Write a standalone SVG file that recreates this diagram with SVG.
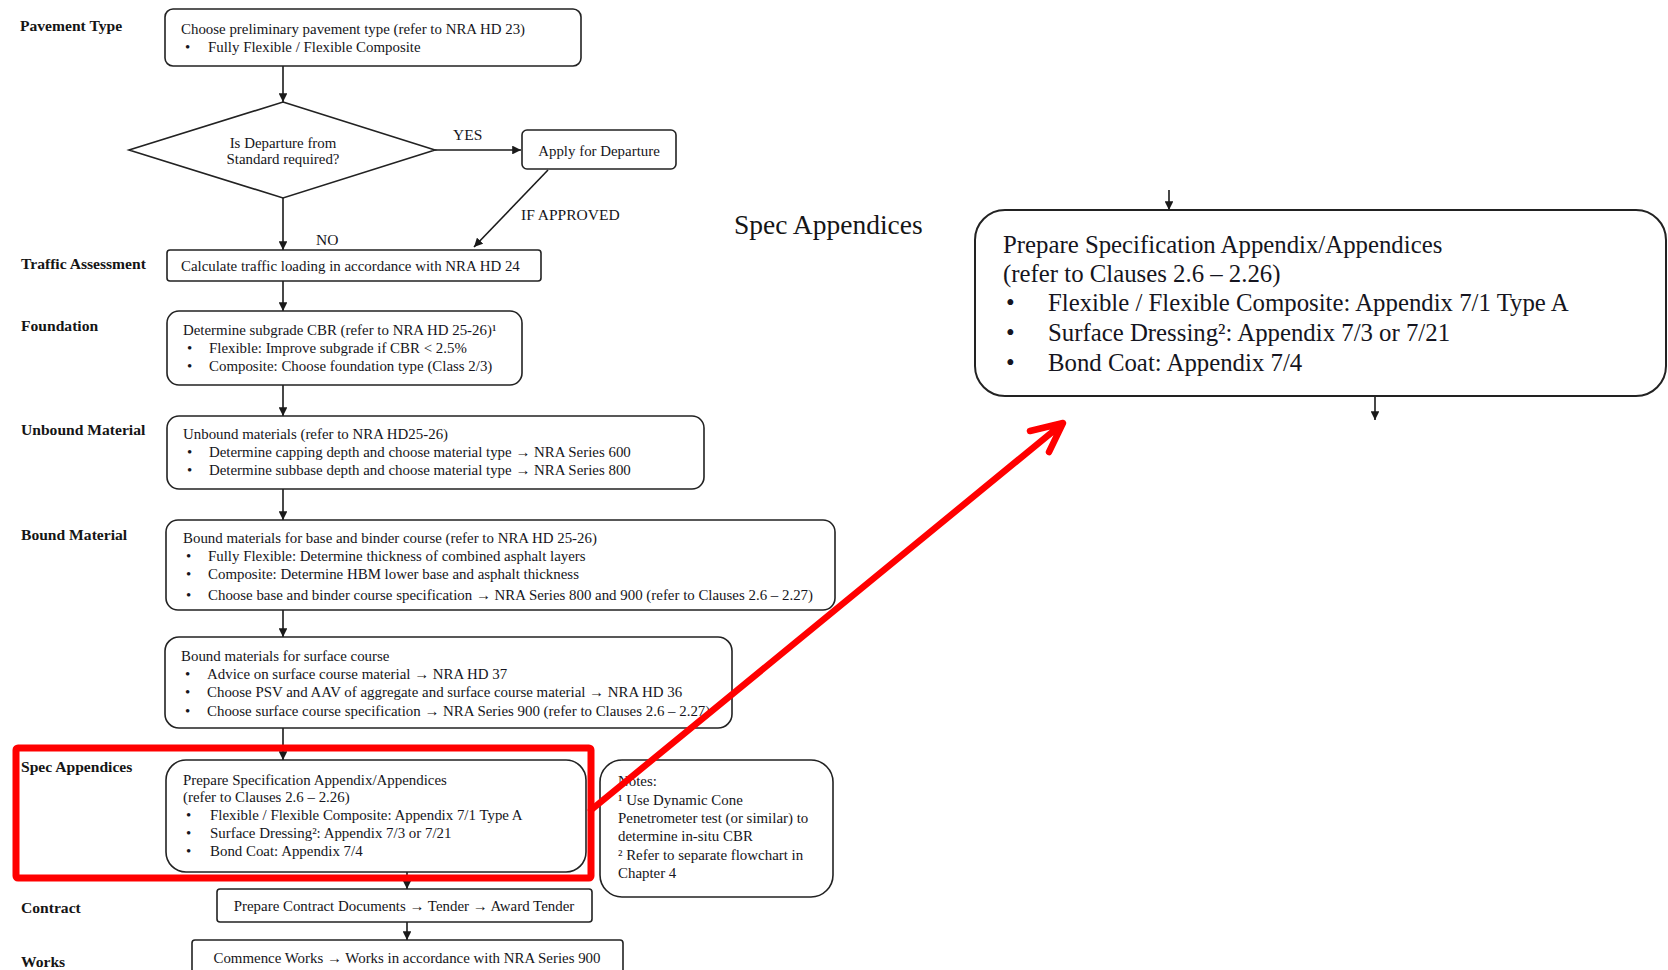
<svg xmlns="http://www.w3.org/2000/svg" width="1668" height="970" viewBox="0 0 1668 970">
  <style>
    .box { fill: #fff; stroke: #222; stroke-width: 1.6; }
    .t { font-family: "Liberation Serif", "Times New Roman", serif; font-size: 14.9px; fill: #151520; }
    .lbl { font-family: "Liberation Serif", "Times New Roman", serif; font-size: 15.6px; font-weight: bold; fill: #151515; }
    .big { font-family: "Liberation Serif", "Times New Roman", serif; font-size: 24.8px; fill: #151520; }
    .title { font-family: "Liberation Serif", "Times New Roman", serif; font-size: 27.5px; fill: #151515; }
    .c { text-anchor: middle; }
    .edge { stroke: #1a1a1a; stroke-width: 1.6; fill: none; marker-end: url(#ah); }
    .red { stroke: #ff0000; fill: none; }
  </style>
  <defs>
    <marker id="ah" viewBox="0 0 10 10" refX="10" refY="5" markerWidth="5.5" markerHeight="5.5" orient="auto" markerUnits="strokeWidth">
      <path d="M0,0 L10,5 L0,10 z" fill="#1a1a1a"/>
    </marker>
  </defs>
  <rect width="1668" height="970" fill="#fff"/>

  <!-- stage labels -->
  <g id="stage-labels">
    <text class="lbl" x="20" y="31">Pavement Type</text>
    <text class="lbl" x="21" y="269">Traffic Assessment</text>
    <text class="lbl" x="21" y="331">Foundation</text>
    <text class="lbl" x="21" y="435">Unbound Material</text>
    <text class="lbl" x="21" y="540">Bound Material</text>
    <text class="lbl" x="21" y="772">Spec Appendices</text>
    <text class="lbl" x="21" y="913">Contract</text>
    <text class="lbl" x="21" y="967">Works</text>
  </g>

  <!-- connectors -->
  <g id="connectors">
    <line class="edge" x1="283" y1="66" x2="283" y2="102"/>
    <line class="edge" x1="435" y1="150" x2="521" y2="150"/>
    <line class="edge" x1="548" y1="170" x2="474" y2="247"/>
    <line class="edge" x1="283" y1="198" x2="283" y2="250"/>
    <line class="edge" x1="283" y1="281" x2="283" y2="311"/>
    <line class="edge" x1="283" y1="385" x2="283" y2="416"/>
    <line class="edge" x1="283" y1="489" x2="283" y2="520"/>
    <line class="edge" x1="283" y1="610" x2="283" y2="637"/>
    <line class="edge" x1="283" y1="728" x2="283" y2="760"/>
    <line class="edge" x1="407" y1="872" x2="407" y2="889"/>
    <line class="edge" x1="407" y1="922" x2="407" y2="940"/>
    <line class="edge" x1="1169" y1="190" x2="1169" y2="210"/>
    <line class="edge" x1="1375" y1="396" x2="1375" y2="420"/>
    <text class="t" x="453" y="140" style="font-size:15.5px">YES</text>
    <text class="t" x="521" y="220" style="font-size:15.5px">IF APPROVED</text>
    <text class="t" x="316" y="245" style="font-size:15.5px">NO</text>
  </g>

  <g id="pavement-type">
    <rect class="box" x="165" y="9" width="416" height="57" rx="8"/>
    <text class="t" x="181" y="34">Choose preliminary pavement type (refer to NRA HD 23)</text>
    <text class="t" x="185" y="52">•</text>
    <text class="t" x="208" y="52">Fully Flexible / Flexible Composite</text>
  </g>

  <g id="departure-decision">
    <polygon class="box" points="283,102 435,150 283,198 129,150"/>
    <text class="t c" x="283" y="148">Is Departure from</text>
    <text class="t c" x="283" y="164">Standard required?</text>
  </g>

  <g id="apply-departure">
    <rect class="box" x="522" y="130" width="154" height="39" rx="5"/>
    <text class="t c" x="599" y="156">Apply for Departure</text>
  </g>

  <g id="traffic">
    <rect class="box" x="167" y="250" width="374" height="31" rx="3"/>
    <text class="t" x="181" y="271">Calculate traffic loading in accordance with NRA HD 24</text>
  </g>

  <g id="foundation">
    <rect class="box" x="167" y="311" width="355" height="74" rx="12"/>
    <text class="t" x="183" y="335">Determine subgrade CBR (refer to NRA HD 25-26)¹</text>
    <text class="t" x="187" y="353">•</text>
    <text class="t" x="209" y="353">Flexible: Improve subgrade if CBR &lt; 2.5%</text>
    <text class="t" x="187" y="371">•</text>
    <text class="t" x="209" y="371">Composite: Choose foundation type (Class 2/3)</text>
  </g>

  <g id="unbound">
    <rect class="box" x="167" y="416" width="537" height="73" rx="12"/>
    <text class="t" x="183" y="439">Unbound materials (refer to NRA HD25-26)</text>
    <text class="t" x="187" y="457">•</text>
    <text class="t" x="209" y="457">Determine capping depth and choose material type → NRA Series 600</text>
    <text class="t" x="187" y="475">•</text>
    <text class="t" x="209" y="475">Determine subbase depth and choose material type → NRA Series 800</text>
  </g>

  <g id="bound-base">
    <rect class="box" x="166" y="520" width="669" height="90" rx="12"/>
    <text class="t" x="183" y="543">Bound materials for base and binder course (refer to NRA HD 25-26)</text>
    <text class="t" x="186" y="561">•</text>
    <text class="t" x="208" y="561">Fully Flexible: Determine thickness of combined asphalt layers</text>
    <text class="t" x="186" y="579">•</text>
    <text class="t" x="208" y="579">Composite: Determine HBM lower base and asphalt thickness</text>
    <text class="t" x="186" y="600">•</text>
    <text class="t" x="208" y="600">Choose base and binder course specification → NRA Series 800 and 900 (refer to Clauses 2.6 – 2.27)</text>
  </g>

  <g id="bound-surface">
    <rect class="box" x="165" y="637" width="567" height="91" rx="14"/>
    <text class="t" x="181" y="661">Bound materials for surface course</text>
    <text class="t" x="185" y="679">•</text>
    <text class="t" x="207" y="679">Advice on surface course material → NRA HD 37</text>
    <text class="t" x="185" y="697">•</text>
    <text class="t" x="207" y="697">Choose PSV and AAV of aggregate and surface course material → NRA HD 36</text>
    <text class="t" x="185" y="716">•</text>
    <text class="t" x="207" y="716">Choose surface course specification → NRA Series 900 (refer to Clauses 2.6 – 2.27)</text>
  </g>

  <g id="spec-appendices">
    <rect class="box" x="166" y="760" width="420" height="112" rx="20"/>
    <text class="t" x="183" y="785">Prepare Specification Appendix/Appendices</text>
    <text class="t" x="183" y="802">(refer to Clauses 2.6 – 2.26)</text>
    <text class="t" x="186" y="820">•</text>
    <text class="t" x="210" y="820">Flexible / Flexible Composite: Appendix 7/1 Type A</text>
    <text class="t" x="186" y="838">•</text>
    <text class="t" x="210" y="838">Surface Dressing²: Appendix 7/3 or 7/21</text>
    <text class="t" x="186" y="856">•</text>
    <text class="t" x="210" y="856">Bond Coat: Appendix 7/4</text>
  </g>

  <g id="notes">
    <rect class="box" x="600" y="760" width="233" height="137" rx="22"/>
    <text class="t" x="618" y="786">Notes:</text>
    <text class="t" x="618" y="805">¹ Use Dynamic Cone</text>
    <text class="t" x="618" y="823">Penetrometer test (or similar) to</text>
    <text class="t" x="618" y="841">determine in-situ CBR</text>
    <text class="t" x="618" y="860">² Refer to separate flowchart in</text>
    <text class="t" x="618" y="878">Chapter 4</text>
  </g>

  <g id="contract">
    <rect class="box" x="217" y="889" width="375" height="33" rx="3"/>
    <text class="t c" x="404" y="911">Prepare Contract Documents → Tender → Award Tender</text>
  </g>

  <g id="works">
    <rect class="box" x="192" y="940" width="431" height="40" rx="3"/>
    <text class="t c" x="407" y="963">Commence Works → Works in accordance with NRA Series 900</text>
  </g>

  <!-- enlarged view of the specification appendices step -->
  <g id="spec-detail">
    <text class="title" x="734" y="234">Spec Appendices</text>
    <rect class="box" x="975" y="210" width="691" height="186" rx="30" style="stroke-width:2"/>
    <text class="big" x="1003" y="253">Prepare Specification Appendix/Appendices</text>
    <text class="big" x="1003" y="282">(refer to Clauses 2.6 – 2.26)</text>
    <text class="big" x="1006" y="311">•</text>
    <text class="big" x="1048" y="311">Flexible / Flexible Composite: Appendix 7/1 Type A</text>
    <text class="big" x="1006" y="341">•</text>
    <text class="big" x="1048" y="341">Surface Dressing²: Appendix 7/3 or 7/21</text>
    <text class="big" x="1006" y="371">•</text>
    <text class="big" x="1048" y="371">Bond Coat: Appendix 7/4</text>
  </g>

  <!-- highlight frame and pointer -->
  <g id="highlight">
    <rect class="red" x="16" y="748" width="575" height="130" rx="2" stroke-width="7"/>
    <path class="red" d="M591,810 L1062,424 M1030,431 L1063,423 L1049,452" stroke-width="6.5" stroke-linecap="round" stroke-linejoin="round"/>
  </g>
</svg>
